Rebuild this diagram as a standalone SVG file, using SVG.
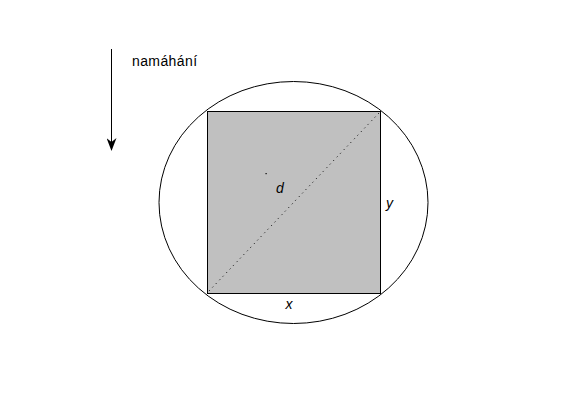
<svg xmlns="http://www.w3.org/2000/svg" width="561" height="420" viewBox="0 0 561 420">
<style>
.lbl{font-family:"Liberation Sans",Arial,sans-serif;fill:#000}
.it{font-style:italic;font-size:14px}
.ln{stroke:#000;stroke-width:1;fill:none}
</style>
<defs>
<marker id="ah" markerWidth="13" markerHeight="10" refX="12" refY="5" orient="auto" markerUnits="userSpaceOnUse" viewBox="0 0 13 10">
<path d="M0,0 L4,5 L0,10 L13,5 Z" fill="#000"/>
</marker>
</defs>
<rect width="561" height="420" fill="#fff"/>
<g id="arrow">
<line class="ln" x1="111.5" y1="49" x2="111.5" y2="150" marker-end="url(#ah)"/>
<text class="lbl" x="132" y="65.5" font-size="14" letter-spacing="0.4">namáhání</text>
</g>
<g id="ellipse">
<ellipse class="ln" cx="293.5" cy="202.5" rx="134.5" ry="121"/>
</g>
<g id="square">
<rect x="207.5" y="111.5" width="173" height="182" fill="#c0c0c0" stroke="#000" stroke-width="1"/>
</g>
<g id="diagonal">
<line x1="209" y1="291" x2="379" y2="113" stroke="#000" stroke-width="1" stroke-dasharray="1,4"/>
<rect x="265.5" y="173" width="1.2" height="1.2" fill="#000"/>
</g>
<g id="labels">
<text class="lbl it" x="276" y="193">d</text>
<text class="lbl it" x="386" y="208">y</text>
<text class="lbl it" x="285.5" y="308.5">x</text>
</g>
</svg>
